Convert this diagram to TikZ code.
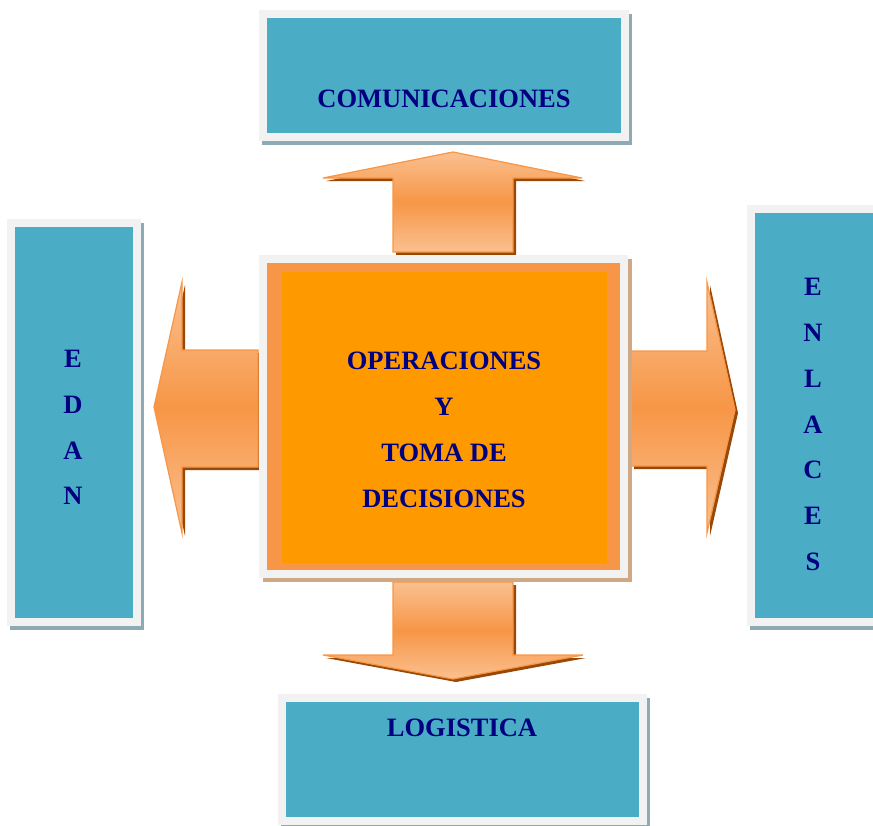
\documentclass[tikz,border=0pt]{standalone}
\usepackage{fontspec}
\setmainfont{Liberation Serif}
\definecolor{tealbox}{HTML}{4BACC6}
\definecolor{frameg}{HTML}{F2F2F2}
\definecolor{shblue}{HTML}{8EAAB5}
\definecolor{shtan}{HTML}{CFA886}
\definecolor{orbord}{HTML}{F79646}
\definecolor{orin}{HTML}{FF9900}
\definecolor{arlight}{HTML}{FAC090}
\definecolor{ardark}{HTML}{984807}
\definecolor{navytxt}{HTML}{000080}
\begin{document}
\begin{tikzpicture}[x=1pt,y=-1pt,
  tbox/.style={fill=tealbox, draw=frameg, line width=8pt, inner sep=0pt,
    preaction={fill=shblue, draw=shblue, line width=8pt, transform canvas={shift={(3pt,-4pt)}}}},
  lbl/.style={font=\fontsize{26.5}{46}\selectfont\bfseries, text=navytxt, align=center, inner sep=0pt},
  vlbl/.style={font=\fontsize{26.5}{45.8}\selectfont\bfseries, text=navytxt, align=center, inner sep=0pt},
  arr/.style={top color=arlight, bottom color=arlight, middle color=orbord, draw=orbord, line width=1.2pt,
    preaction={fill=ardark, transform canvas={shift={(3pt,-3pt)}}}}]
\useasboundingbox (0,0) rectangle (873,825);
\clip (0,0) rectangle (873,825);

% block arrows
\path[arr] (453,152) -- (582,178) -- (513,178) -- (513,252) -- (393,252) -- (393,178) -- (323,178) -- cycle;
\path[arr] (393,582) -- (513,582) -- (513,655) -- (583,655) -- (453,679) -- (323,655) -- (393,655) -- cycle;
\path[arr] (154,407) -- (182,282) -- (182,350) -- (258,350) -- (258,467) -- (182,467) -- (182,533) -- cycle;
\path[arr] (631,351) -- (707,351) -- (707,282) -- (735,410) -- (707,533) -- (707,466) -- (631,466) -- cycle;

% outer boxes
\node[tbox, minimum width=362pt, minimum height=123pt] (com) at (444,75.5) {};
\node[tbox, minimum width=126pt, minimum height=399pt] (edan) at (74,422.5) {};
\node[tbox, minimum width=138pt, minimum height=413pt] (enl) at (820,415.5) {};
\node[tbox, minimum width=361pt, minimum height=123pt] (log) at (462.5,759.5) {};

% centre box
\fill[shtan] (263,259) rectangle (632,582);
\node[fill=frameg, minimum width=369pt, minimum height=323pt, inner sep=0pt] (opsframe) at (443.5,416.5) {};
\node[fill=orbord, minimum width=353pt, minimum height=307pt, inner sep=0pt] (opsbord) at (443.5,416.5) {};
\node[fill=orin, minimum width=325pt, minimum height=291pt, inner sep=0pt] (ops) at (444.5,417.5) {};

% texts
\node[lbl] (comt) at (444,99) {COMUNICACIONES};
\node[lbl] (logt) at (462,728) {LOGISTICA};
\node[lbl] (opst) at (444,430) {OPERACIONES\\Y\\TOMA DE\\DECISIONES};
\node[vlbl] (edant) at (73,427.5) {E\\D\\A\\N};
\node[vlbl] (enlt) at (813,424.5) {E\\N\\L\\A\\C\\E\\S};
\end{tikzpicture}
\end{document}
